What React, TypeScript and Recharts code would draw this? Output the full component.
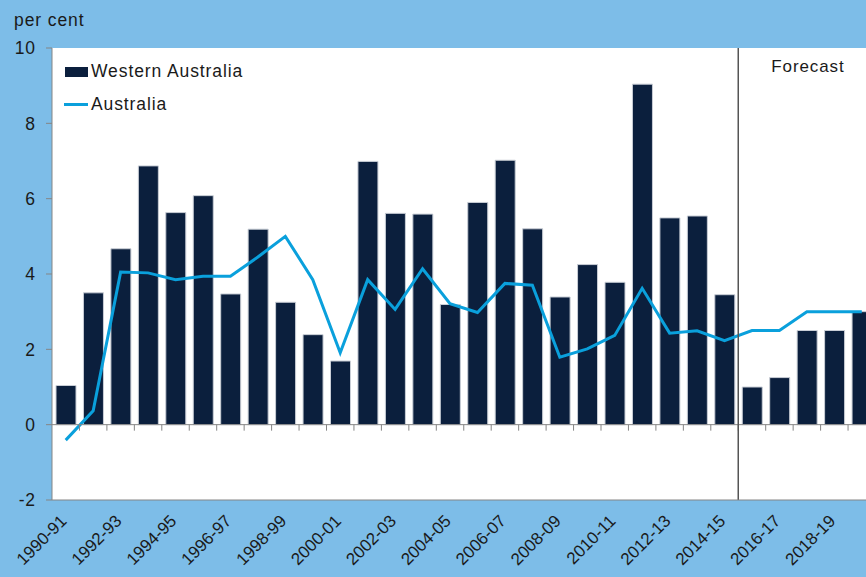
import {
  Bar,
  ComposedChart,
  Legend,
  Line,
  ReferenceLine,
  XAxis,
  YAxis,
  CartesianGrid,
} from "recharts";

const YEARS = [
  "1990-91", "1991-92", "1992-93", "1993-94", "1994-95", "1995-96",
  "1996-97", "1997-98", "1998-99", "1999-00", "2000-01", "2001-02",
  "2002-03", "2003-04", "2004-05", "2005-06", "2006-07", "2007-08",
  "2008-09", "2009-10", "2010-11", "2011-12", "2012-13", "2013-14",
  "2014-15", "2015-16", "2016-17", "2017-18", "2018-19", "2019-20",
];

// Western Australia, per cent
const WA_GROWTH = [
  1.04, 3.5, 4.67, 6.87, 5.63, 6.08, 3.47, 5.19, 3.25, 2.39,
  1.69, 6.99, 5.61, 5.59, 3.19, 5.9, 7.02, 5.2, 3.39, 4.25,
  3.78, 9.04, 5.49, 5.54, 3.45, 1.0, 1.25, 2.5, 2.5, 3.0,
];

// Australia, per cent
const AUS_GROWTH = [
  -0.41, 0.37, 4.05, 4.03, 3.85, 3.94, 3.94, 4.45, 5.0, 3.85,
  1.91, 3.85, 3.06, 4.14, 3.21, 2.98, 3.75, 3.7, 1.79, 2.01,
  2.37, 3.62, 2.43, 2.49, 2.23, 2.5, 2.5, 3.0, 3.0, 3.0,
];

const Y_TICKS = [-2, 0, 2, 4, 6, 8, 10];
const FORECAST_FROM = "2015-16";

const NAVY = "#0b1f3d";
const CYAN = "#0aa0dc";
const AXIS = "#858585";
const TEXT = "#1a1a1a";

const data = YEARS.map((year, i) => ({
  year,
  wa: WA_GROWTH[i],
  aus: AUS_GROWTH[i],
}));

function YearTick({ x, y, payload }: any) {
  const ax = x + 2;
  const ay = y + 22;
  return (
    <text
      x={ax}
      y={ay}
      transform={`rotate(-45 ${ax} ${ay})`}
      textAnchor="end"
      fontSize={17}
      letterSpacing={0}
      fill={TEXT}
    >
      {payload.value}
    </text>
  );
}

// zero line with small ticks at the category boundaries
function ZeroLine(props: any) {
  const { x1, x2, y1 } = props;
  if (x1 == null || x2 == null || y1 == null) return null;
  const step = (x2 - x1) / YEARS.length;
  return (
    <g>
      <line x1={x1} x2={x2} y1={y1} y2={y1} stroke={AXIS} strokeWidth={1} />
      {YEARS.slice(1).map((_, k) => (
        <line
          key={k}
          x1={x1 + (k + 1) * step}
          x2={x1 + (k + 1) * step}
          y1={y1}
          y2={y1 + 6}
          stroke={AXIS}
          strokeWidth={1}
        />
      ))}
    </g>
  );
}

function LegendBox() {
  const row = { display: "flex", alignItems: "center", height: 33, fontSize: 17.5, color: TEXT };
  return (
    <div>
      <div style={row}>
        <span style={{ width: 23, height: 10, background: NAVY, marginLeft: 1, marginRight: 3 }} />
        Western Australia
      </div>
      <div style={row}>
        <span style={{ width: 24, height: 3, background: CYAN, marginRight: 3 }} />
        Australia
      </div>
    </div>
  );
}

export default function App() {
  return (
    <div
      style={{
        position: "absolute",
        left: 0,
        top: 0,
        width: 866,
        height: 577,
        overflow: "hidden",
        background: "#7dbde8",
        fontFamily: '"Liberation Sans", Arial, sans-serif',
        letterSpacing: "0.9px",
      }}
    >
      <ComposedChart
        width={900}
        height={577}
        data={data}
        margin={{ top: 48, right: 24.5, bottom: 0, left: 0 }}
      >
        <CartesianGrid horizontal={false} vertical={false} fill="#ffffff" />
        <XAxis
          dataKey="year"
          height={77}
          interval={1}
          tickSize={0}
          tickMargin={0}
          tickLine={false}
          axisLine={{ stroke: AXIS }}
          tick={<YearTick />}
        />
        <XAxis
          xAxisId="top"
          dataKey="year"
          orientation="top"
          height={0}
          tick={false}
          tickLine={false}
          axisLine={{ stroke: "#555" }}
        />
        <YAxis
          width={52}
          domain={[-2, 10]}
          ticks={Y_TICKS}
          interval={0}
          tickSize={6}
          tickMargin={10}
          tickLine={{ stroke: AXIS }}
          axisLine={{ stroke: AXIS }}
          tick={{ fontSize: 17.5, fill: TEXT }}
          label={(props: any) => {
            const vb = props.viewBox || { x: 0, y: 48 };
            return (
              <text x={vb.x + 14} y={vb.y - 22} fontSize={17.5} fill={TEXT}>
                per cent
              </text>
            );
          }}
        />
        <Bar
          dataKey="wa"
          name="Western Australia"
          fill={NAVY}
          stroke="#c9ced6"
          strokeWidth={1}
          barSize={20}
          isAnimationActive={false}
        />
        <Line
          dataKey="aus"
          name="Australia"
          type="linear"
          stroke={CYAN}
          strokeWidth={3}
          dot={false}
          activeDot={false}
          isAnimationActive={false}
        />
        <ReferenceLine y={0} shape={<ZeroLine />} />
        <ReferenceLine
          x={FORECAST_FROM}
          position="start"
          stroke="#555"
          strokeWidth={1.5}
          label={(props: any) => {
            const vb = props.viewBox || { x: 739, y: 48 };
            return (
              <text x={vb.x + 33} y={vb.y + 24} fontSize={17} fill={TEXT}>
                Forecast
              </text>
            );
          }}
        />
        <Legend
          layout="vertical"
          align="center"
          verticalAlign="middle"
          wrapperStyle={{ left: 64, top: 55, width: "auto", height: "auto" }}
          content={() => <LegendBox />}
        />
      </ComposedChart>
    </div>
  );
}
